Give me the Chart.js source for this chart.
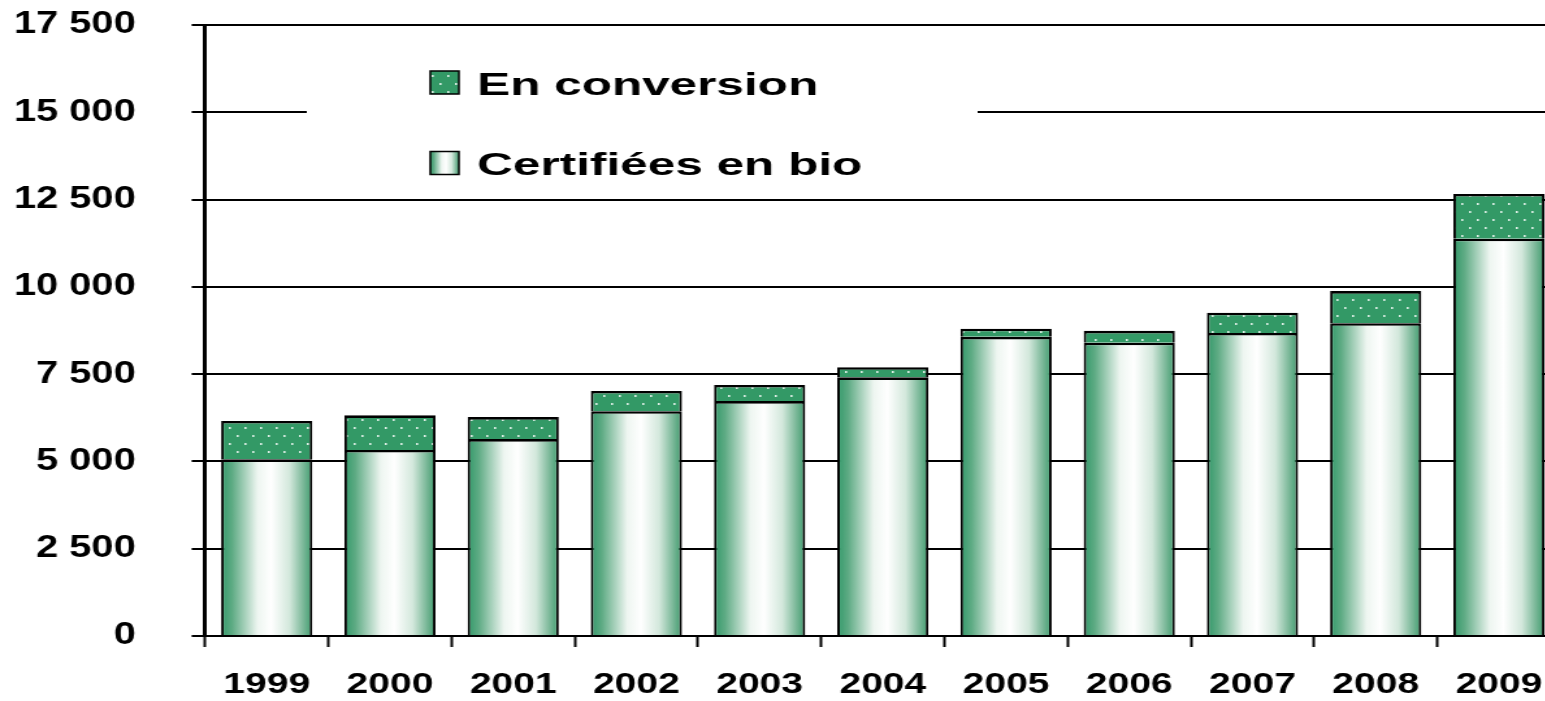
<!DOCTYPE html>
<html lang="fr">
<head>
<meta charset="UTF-8">
<title>Surfaces en bio 1999-2009</title>
<script src="https://cdn.jsdelivr.net/npm/chart.js"></script>
<style>
  body { margin: 0; background: #fff; overflow: hidden; }
</style>
</head>
<body>
<!-- l'original est étiré horizontalement : on dessine à 1220 px et on affiche à 1586 px -->
<canvas id="graf" width="1220" height="701" style="display:block;width:1586px;height:701px"></canvas>
<script>
const annees = ['1999', '2000', '2001', '2002', '2003', '2004', '2005', '2006', '2007', '2008', '2009'];
const certifiees = [5060, 5330, 5640, 6440, 6730, 7410, 8570, 8400, 8680, 8960, 11380];
const conversion = [1100, 990, 630, 580, 460, 290, 230, 340, 580, 920, 1280];
const yMax = 17500;
const yPas = 2500;

const VERT = '#339966';
const canvas = document.getElementById('graf');
const ctx = canvas.getContext('2d');

// motif vert à points blancs
function motifPoints() {
  const c = document.createElement('canvas');
  c.width = 12; c.height = 16;
  const g = c.getContext('2d');
  g.fillStyle = VERT;
  g.fillRect(0, 0, 12, 16);
  g.fillStyle = 'rgba(230,242,236,0.95)';
  g.fillRect(2, 3, 1.6, 2);
  g.fillRect(8, 11, 1.6, 2);
  return ctx.createPattern(c, 'repeat');
}
const points = motifPoints();

function degrade(x0, x1) {
  const g = ctx.createLinearGradient(x0, 0, x1, 0);
  g.addColorStop(0, '#33996a');
  g.addColorStop(0.12, '#5eab84');
  g.addColorStop(0.4, '#eef6f1');
  g.addColorStop(0.55, '#ffffff');
  g.addColorStop(0.75, '#d3e8dc');
  g.addColorStop(0.92, '#6fb290');
  g.addColorStop(1, '#3c9c6d');
  return g;
}

const LARGEUR_BARRE = 0.74;

function fondCertifiees(c) {
  const chart = c.chart;
  const xs = chart.scales.x;
  if (!xs || !chart.chartArea) return VERT;
  const cx = xs.getPixelForValue(c.dataIndex);
  const w = xs.width / annees.length * LARGEUR_BARRE;
  return degrade(cx - w / 2, cx + w / 2);
}

function formatMilliers(v) {
  return String(v).replace(/\B(?=(\d{3})+(?!\d))/g, ' ');
}

const bordure = { top: 2.6, bottom: 2.6, left: 2, right: 2 };

const legendeBio = {
  id: 'legendeBio',
  afterDraw(chart) {
    const g = chart.ctx;
    g.save();
    g.fillStyle = '#fff';
    g.fillRect(236, 28, 516, 168);
    const items = [
      { texte: chart.data.datasets[1].label, fond: points, y: 71 },
      { texte: chart.data.datasets[0].label, fond: degrade(331, 353), y: 151.5 }
    ];
    items.forEach(it => {
      g.fillStyle = it.fond;
      g.fillRect(331, it.y, 22, 23);
      g.strokeStyle = '#000';
      g.lineWidth = 1.5;
      g.strokeRect(331, it.y, 22, 23);
      g.save();
      g.translate(367, it.y + 23.5);
      g.scale(1.19, 1);
      g.fillStyle = '#000';
      g.font = 'bold 32px "Liberation Sans", Arial, sans-serif';
      g.textBaseline = 'alphabetic';
      g.fillText(it.texte, 0, 0);
      g.restore();
    });
    g.restore();
  }
};

new Chart(canvas, {
  type: 'bar',
  data: {
    labels: annees,
    datasets: [
      {
        label: 'Certifiées en bio',
        data: certifiees,
        backgroundColor: fondCertifiees,
        borderColor: '#000',
        borderWidth: bordure,
        stack: 'bio'
      },
      {
        label: 'En conversion',
        data: conversion,
        backgroundColor: points,
        borderColor: '#000',
        borderWidth: bordure,
        stack: 'bio'
      }
    ]
  },
  options: {
    responsive: false,
    devicePixelRatio: 1,
    animation: false,
    layout: { padding: { left: 0, right: 19.6, top: 25, bottom: 0 } },
    datasets: { bar: { categoryPercentage: 1, barPercentage: LARGEUR_BARRE } },
    plugins: {
      legend: { display: false },
      tooltip: { enabled: false }
    },
    scales: {
      x: {
        stacked: true,
        afterFit(s) { s.height = 65; s.paddingLeft = 0; s.paddingRight = 0; },
        grid: {
          drawOnChartArea: false,
          drawTicks: true,
          tickLength: 11,
          tickColor: '#000',
          tickWidth: 2,
          offset: true
        },
        border: { display: true, color: '#000', width: 2 },
        ticks: {
          color: '#000',
          padding: 20,
          maxRotation: 0,
          font: { family: '"Liberation Sans", Arial, sans-serif', size: 30, weight: 'bold' }
        }
      },
      y: {
        stacked: true,
        min: 0,
        max: yMax,
        afterFit(s) { s.width = 157.8; s.paddingTop = 0; s.paddingBottom = 0; },
        grid: {
          color: '#000',
          lineWidth: 2,
          drawTicks: true,
          tickLength: 10.4,
          tickColor: '#000'
        },
        border: { display: true, color: '#000', width: 3 },
        ticks: {
          stepSize: yPas,
          color: '#000',
          padding: 43,
          font: { family: '"Liberation Sans", Arial, sans-serif', size: 30.6, weight: 'bold' },
          callback: v => formatMilliers(v)
        }
      }
    }
  },
  plugins: [legendeBio]
});
</script>
</body>
</html>
